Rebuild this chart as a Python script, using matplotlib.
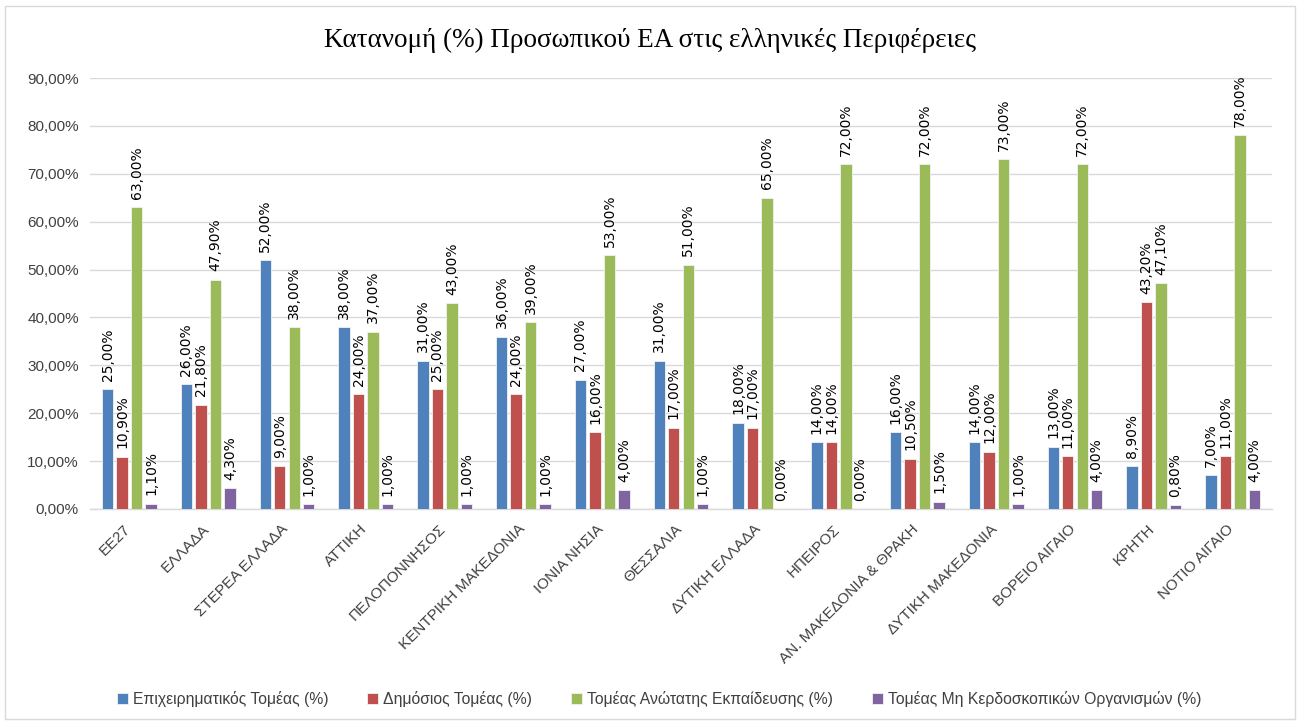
import matplotlib
matplotlib.use("Agg")
import matplotlib.pyplot as plt
from matplotlib import font_manager
from matplotlib.patches import Rectangle
from matplotlib.ticker import FuncFormatter, MultipleLocator
import matplotlib.transforms as mtransforms
import numpy as np

categories = ["ΕΕ27", "ΕΛΛΑΔΑ", "ΣΤΕΡΕΑ ΕΛΛΑΔΑ", "ΑΤΤΙΚΗ", "ΠΕΛΟΠΟΝΝΗΣΟΣ",
              "ΚΕΝΤΡΙΚΗ ΜΑΚΕΔΟΝΙΑ", "ΙΟΝΙΑ ΝΗΣΙΑ", "ΘΕΣΣΑΛΙΑ", "ΔΥΤΙΚΗ ΕΛΛΑΔΑ",
              "ΗΠΕΙΡΟΣ", "ΑΝ. ΜΑΚΕΔΟΝΙΑ & ΘΡΑΚΗ", "ΔΥΤΙΚΗ ΜΑΚΕΔΟΝΙΑ",
              "ΒΟΡΕΙΟ ΑΙΓΑΙΟ", "ΚΡΗΤΗ", "ΝΟΤΙΟ ΑΙΓΑΙΟ"]
business = [25, 26, 52, 38, 31, 36, 27, 31, 18, 14, 16, 14, 13, 8.9, 7]
public = [10.9, 21.8, 9, 24, 25, 24, 16, 17, 17, 14, 10.5, 12, 11, 43.2, 11]
higher_ed = [63, 47.9, 38, 37, 43, 39, 53, 51, 65, 72, 72, 73, 72, 47.1, 78]
nonprofit = [1.1, 4.3, 1, 1, 1, 1, 4, 1, 0, 0, 1.5, 1, 4, 0.8, 4]
series_names = ["Επιχειρηματικός Τομέας (%)", "Δημόσιος Τομέας (%)",
                "Τομέας Ανώτατης Εκπαίδευσης (%)",
                "Τομέας Μη Κερδοσκοπικών Οργανισμών (%)"]
title = "Κατανομή (%) Προσωπικού ΕΑ στις ελληνικές Περιφέρειες"

colors = ["#4F81BD", "#C0504D", "#9BBB59", "#8064A2"]


def pick(names):
    for n in names:
        try:
            font_manager.findfont(n, fallback_to_default=False)
            return n
        except Exception:
            pass
    return "DejaVu Sans"


sans = pick(["Liberation Sans Narrow", "Liberation Sans"])
serif = pick(["Liberation Serif", "DejaVu Serif"])

fig = plt.figure(figsize=(13.01, 7.24), dpi=100)
ax = fig.add_axes([90 / 1301, 1 - 509 / 724, (1272 - 90) / 1301, (509 - 78) / 724])

fig.patches.append(Rectangle((5 / 1301, 5 / 724), 1290 / 1301, 713 / 724,
                             transform=fig.transFigure, fill=False,
                             edgecolor="#D9D9D9", linewidth=1.0))

x = np.arange(len(categories))
slot = 0.184
bw = 0.145
all_series = [business, public, higher_ed, nonprofit]
for i, (vals, c, name) in enumerate(zip(all_series, colors, series_names)):
    pos = x + (i - 1.5) * slot
    ax.bar(pos, vals, width=bw, color=c, edgecolor="#F2F2F2",
           linewidth=0.6, label=name, zorder=3)
    for xb, v in zip(pos, vals):
        ax.annotate(f"{v:.2f}%".replace(".", ","), (xb, v),
                    xytext=(0, 6), textcoords="offset points",
                    rotation=90, ha="center", va="bottom",
                    fontsize=10, family="DejaVu Sans", color="#000000",
                    zorder=4)

ax.set_xlim(-0.5, len(categories) - 0.5)
ax.set_ylim(0, 90)
ax.yaxis.set_major_locator(MultipleLocator(10))
ax.yaxis.set_major_formatter(FuncFormatter(lambda v, p: f"{v:.2f}%".replace(".", ",")))
ax.grid(axis="y", color="#D9D9D9", linewidth=1.0, zorder=0)
ax.set_axisbelow(True)
for s in ["top", "right", "left"]:
    ax.spines[s].set_visible(False)
ax.spines["bottom"].set_color("#D9D9D9")
ax.spines["bottom"].set_linewidth(1.0)
ax.tick_params(axis="both", length=0)
ax.tick_params(axis="y", labelsize=11, pad=8, labelcolor="#404040")
for lab in ax.get_yticklabels():
    lab.set_family(sans)

ax.set_xticks(x)
ax.set_xticklabels(categories, rotation=45, ha="right", va="top",
                   rotation_mode="anchor", fontsize=11, family=sans,
                   color="#404040")
offset = mtransforms.ScaledTranslation(-6 / 100, -8 / 100, fig.dpi_scale_trans)
for lab in ax.get_xticklabels():
    lab.set_transform(lab.get_transform() + offset)

fig.text(0.5, 1 - 40 / 724, title, ha="center", va="center",
         fontsize=19.5, family=serif, color="#000000")

leg = fig.legend(loc="center", bbox_to_anchor=(659 / 1301, 1 - 699 / 724),
                 ncol=4, frameon=False,
                 prop={"family": sans, "size": 11.3},
                 handlelength=0.7, handleheight=0.7, handletextpad=0.3,
                 columnspacing=2.5)
for t in leg.get_texts():
    t.set_color("#404040")

fig.savefig("out.png", dpi=100)
